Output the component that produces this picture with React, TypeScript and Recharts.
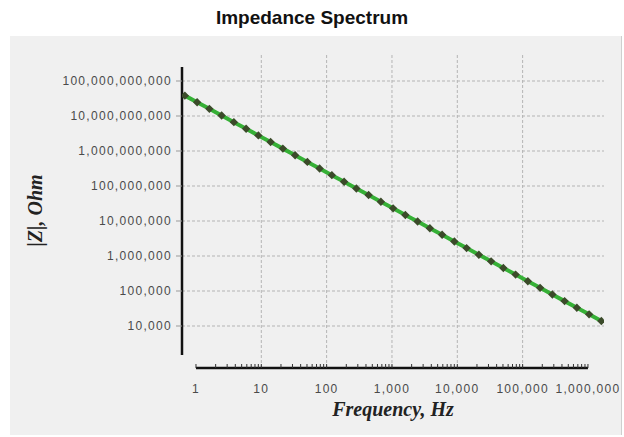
import React from "react";
import { LineChart, Line, XAxis, YAxis, ReferenceLine } from "recharts";

// measured sweep: frequency (Hz) and |Z| (Ohm)
const FREQ_HZ = [
  0.676, 1.041, 1.603, 2.469, 3.802, 5.855, 9.016, 13.88, 21.38, 32.92, 50.7, 78.07,
  120.2, 185.1, 285.1, 439.0, 676.1, 1041, 1603, 2469, 3802, 5855, 9016, 13880, 21380,
  32920, 50700, 78070, 120200, 185100, 285100, 439000, 676100, 1041000, 1603000,
];
const IMPEDANCE_OHM = [
  3.82e10, 2.47e10, 1.6e10, 1.03e10, 6.67e9, 4.32e9, 2.79e9, 1.8e9, 1.17e9, 7.54e8, 4.88e8,
  3.15e8, 2.04e8, 1.32e8, 8.51e7, 5.51e7, 3.56e7, 2.3e7, 1.49e7, 9.63e6, 6.22e6, 4.03e6,
  2.6e6, 1.68e6, 1.09e6, 7.03e5, 4.55e5, 2.94e5, 1.9e5, 1.23e5, 7.94e4, 5.14e4, 3.33e4,
  2.15e4, 1.39e4,
];

const X_DECADES = [1, 10, 100, 1000, 10000, 100000, 1000000];
const X_GRID = [10, 100, 1000, 10000, 100000];
const Y_TICKS = [1e4, 1e5, 1e6, 1e7, 1e8, 1e9, 1e10, 1e11];

const X_DOMAIN = [0.611, 1.76e6];
const Y_DOMAIN = [631, 6.31e11];
// the drawn axis lines are shorter than the plot box
const Y_AXIS_SPAN = [1480, 2.51e11];

const X_MINOR = X_DECADES.slice(0, -1).flatMap((d) =>
  [2, 3, 4, 5, 6, 7, 8, 9].map((k) => d * k)
);
const X_TICKS = [...X_DECADES, ...X_MINOR].sort((a, b) => a - b);

const data = FREQ_HZ.map((f, i) => ({ f, z: IMPEDANCE_OHM[i] }));

const fmt = (v: number) => v.toLocaleString("en-US");

const TICK_FONT = "'Liberation Sans', Arial, sans-serif";
const TICK_FILL = "#4a4a4a";
const LABEL_STYLE = {
  fontFamily: "'Liberation Serif', 'Times New Roman', serif",
  fontWeight: "bold",
  fontStyle: "italic",
  fontSize: 20,
  fill: "#222",
};
const GRID = { stroke: "#b4b4b4", strokeDasharray: "3 2", strokeWidth: 1 };

function FreqTick(props: any) {
  const { x, y, payload } = props;
  const major = X_DECADES.includes(payload.value);
  return (
    <g>
      <line x1={x} x2={x} y1={y - 4} y2={y} stroke="#333" strokeWidth={1} />
      {major && (
        <text
          x={x}
          y={y + 25}
          textAnchor="middle"
          fontSize={12}
          fill={TICK_FILL}
          fontFamily={TICK_FONT}
          letterSpacing={1.3}
        >
          {fmt(payload.value)}
        </text>
      )}
    </g>
  );
}

function Diamond(props: any) {
  const { cx, cy } = props;
  if (cx == null || cy == null) return null;
  const r = 4.2;
  return (
    <path
      d={`M${cx},${cy - r}L${cx + r},${cy}L${cx},${cy + r}L${cx - r},${cy}Z`}
      fill="#3b4b2a"
    />
  );
}

export default function App() {
  return (
    <div
      style={{
        position: "absolute",
        left: 0,
        top: 0,
        width: 624,
        height: 437,
        background: "#fff",
        overflow: "hidden",
      }}
    >
      <div
        style={{
          position: "absolute",
          left: 10,
          top: 36,
          width: 611,
          height: 399,
          background: "#f0f0f0",
          borderRight: "1px solid #cfcfcf",
        }}
      />
      <div
        style={{
          position: "absolute",
          left: 0,
          top: 7,
          width: 624,
          textAlign: "center",
          fontFamily: TICK_FONT,
          fontWeight: "bold",
          fontSize: 19,
          color: "#111",
        }}
      >
        Impedance Spectrum
      </div>
      <LineChart
        width={624}
        height={437}
        data={data}
        margin={{ top: 53, right: 20, bottom: 19, left: 10 }}
        style={{ position: "absolute", left: 0, top: 0 }}
      >
        <XAxis
          dataKey="f"
          type="number"
          scale="log"
          domain={X_DOMAIN}
          allowDataOverflow
          ticks={X_TICKS}
          interval={0}
          axisLine={false}
          tickLine={false}
          tickSize={0}
          tickMargin={0}
          height={50}
          tick={<FreqTick />}
          label={{ value: "Frequency, Hz", position: "insideBottom", offset: 2, style: LABEL_STYLE }}
        />
        <YAxis
          type="number"
          scale="log"
          domain={Y_DOMAIN}
          allowDataOverflow
          ticks={Y_TICKS}
          interval={0}
          width={172}
          axisLine={false}
          tickSize={6}
          tickMargin={4}
          tickLine={{ stroke: "#999" }}
          tickFormatter={fmt}
          tick={{ fontSize: 12, fill: TICK_FILL, fontFamily: TICK_FONT, letterSpacing: 1.3 }}
          label={{
            value: "|Z|, Ohm",
            angle: -90,
            position: "insideLeft",
            offset: 25,
            style: { ...LABEL_STYLE, textAnchor: "middle" },
          }}
        />
        {X_GRID.map((v) => (
          <ReferenceLine key={`gx${v}`} x={v} {...GRID} />
        ))}
        {Y_TICKS.map((v) => (
          <ReferenceLine key={`gy${v}`} y={v} {...GRID} />
        ))}
        <ReferenceLine
          segment={[
            { x: X_DOMAIN[0], y: Y_AXIS_SPAN[0] },
            { x: X_DOMAIN[0], y: Y_AXIS_SPAN[1] },
          ]}
          stroke="#111"
          strokeWidth={2.5}
          ifOverflow="visible"
        />
        <ReferenceLine
          segment={[
            { x: X_DECADES[0], y: Y_DOMAIN[0] },
            { x: X_DECADES[X_DECADES.length - 1], y: Y_DOMAIN[0] },
          ]}
          stroke="#111"
          strokeWidth={2.5}
          ifOverflow="visible"
        />
        <Line
          dataKey="z"
          stroke="#36b036"
          strokeWidth={4}
          dot={<Diamond />}
          activeDot={false}
          isAnimationActive={false}
        />
      </LineChart>
    </div>
  );
}
